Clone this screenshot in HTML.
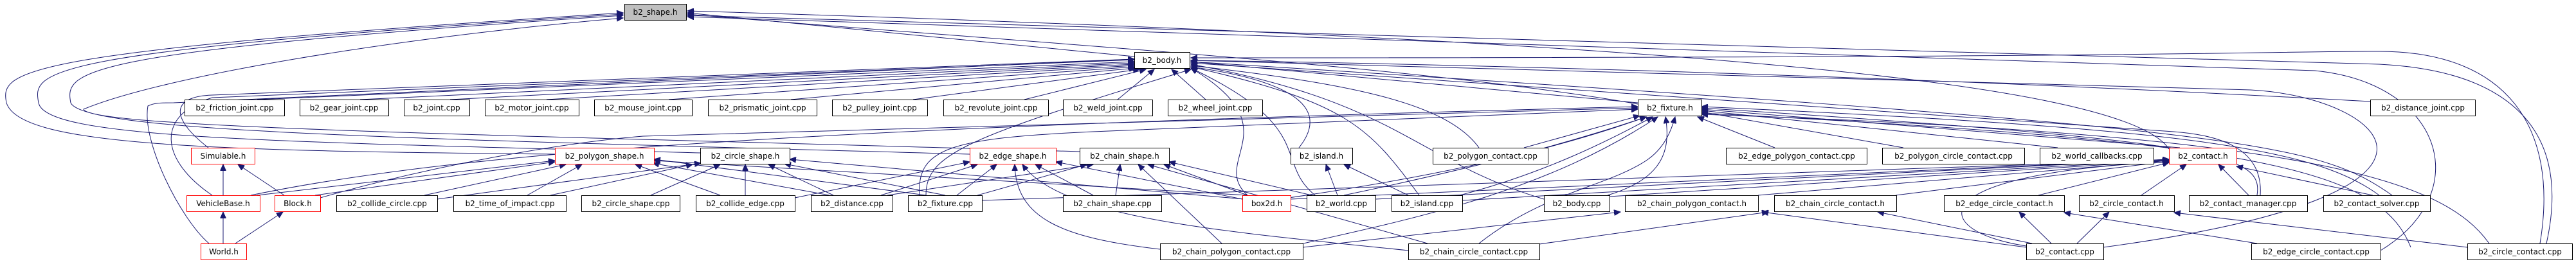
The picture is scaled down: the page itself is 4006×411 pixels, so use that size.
<!DOCTYPE html>
<html><head><meta charset="utf-8"><style>
html,body{margin:0;padding:0;background:#fff;}
svg{display:block;}
text{font-family:"DejaVu Sans","Liberation Sans",sans-serif;font-size:12px;fill:#000;}
.n{fill:#fff;stroke:#000;stroke-width:1;}
.r{fill:#fff;stroke:#ff0000;stroke-width:1;}
.g{fill:#bfbfbf;stroke:#000;stroke-width:1;}
.e{fill:none;stroke:#191970;stroke-width:1;}
</style></head><body>
<svg width="4006" height="411" viewBox="0 0 4006 411" xmlns="http://www.w3.org/2000/svg">
<defs><marker id="a" markerWidth="11" markerHeight="9" refX="10" refY="4.5" orient="auto" markerUnits="userSpaceOnUse"><path d="M0,0 L10,4.5 L0,9 Z" fill="#191970" stroke="#191970"/></marker></defs>
<g class="e" marker-end="url(#a)">
<!-- into b2_shape.h -->
<path d="M1764 88 L1069 20"/>
<path d="M2547 162 C2200 100 1500 60 1069 22"/>
<path d="M3373 232 C3300 120 2500 60 1069 17"/>
<path d="M3960 379 C4000 200 3900 110 3700 100 L1069 24"/>
<path d="M3702 390 C3850 300 3800 130 3600 110 L1069 26"/>
<path d="M863 240 C300 235 30 225 10 160 C0 110 20 80 969 20"/>
<path d="M1089 238 C400 220 70 215 60 160 C50 110 60 80 969 22"/>
<path d="M1508 240 C600 215 130 205 110 160 C100 110 120 80 969 24"/>
<path d="M1679 236 C800 210 140 200 130 170 C250 120 600 60 969 28"/>
<!-- into b2_body.h -->
<path d="M400 155 L1764 96"/>
<path d="M560 155 L1764 98"/>
<path d="M700 155 L1764 100"/>
<path d="M850 155 L1764 102"/>
<path d="M1040 155 L1764 104"/>
<path d="M1230 155 L1766 106"/>
<path d="M1420 155 L1772 108"/>
<path d="M1593 155 L1782 108"/>
<path d="M1738 155 L1795 108"/>
<path d="M1875 155 L1822 108"/>
<path d="M3686 158 C3000 120 2300 100 1852 94"/>
<path d="M2547 160 L1852 96"/>
<path d="M324 230 C260 180 270 150 330 148 L1764 92"/>
<path d="M330 304 C250 250 240 180 330 152 L1764 93"/>
<path d="M325 379 C280 340 220 220 230 165 C240 160 250 160 270 160 L1764 92"/>
<path d="M2020 230 C2060 180 2040 130 1852 104"/>
<path d="M2045 304 C1980 250 2050 200 1852 106"/>
<path d="M2207 304 C2130 200 2100 160 1852 104"/>
<path d="M2401 310 C2200 250 2180 160 1852 100"/>
<path d="M1940 304 C1880 250 2010 200 1852 106"/>
<path d="M2300 230 C2250 160 2100 130 1852 102"/>
<path d="M3515 304 C3520 230 3450 210 3380 205 L1852 98"/>
<path d="M3720 304 C3600 220 3500 200 1852 96"/>
<path d="M3271 385 C3900 300 3700 150 3500 140 L1852 94"/>
<path d="M3950 379 C3980 200 3900 80 3700 80 C3500 80 3400 90 1852 90"/>
<path d="M1440 304 C1440 240 1500 215 1852 108"/>
<!-- into b2_fixture.h -->
<path d="M1430 304 C1425 230 1480 215 1700 205 L2547 170"/>
<path d="M2090 304 C2300 260 2450 220 2560 182"/>
<path d="M2270 304 C2400 270 2500 220 2570 182"/>
<path d="M2500 304 C2580 280 2600 240 2590 182"/>
<path d="M1990 310 C2200 280 2400 240 2560 182"/>
<path d="M2370 230 L2550 180"/>
<path d="M2760 230 L2640 182"/>
<path d="M2960 230 L2646 174"/>
<path d="M3200 230 L2646 172"/>
<path d="M3390 230 L2646 170"/>
<path d="M3510 304 C3520 240 3450 220 2646 168"/>
<path d="M3700 304 C3600 230 3400 200 2646 166"/>
<path d="M2300 379 C2400 300 2500 290 2560 250 C2590 230 2600 200 2605 182"/>
<path d="M2000 385 C2200 340 2400 300 2578 182"/>
<path d="M498 308 C700 250 900 220 1000 212 L2547 168"/>
<path d="M390 304 C700 240 1200 200 2547 166"/>
<path d="M3871 379 C3800 280 3600 210 2646 178"/>
<path d="M3749 385 C3700 260 3500 220 2646 176"/>
<!-- into b2_polygon_shape.h -->
<path d="M660 304 L880 256"/>
<path d="M820 304 L905 256"/>
<path d="M1120 304 L988 256"/>
<path d="M1290 304 L1015 254"/>
<path d="M1440 304 L1017 248"/>
<path d="M1940 304 L1017 250"/>
<path d="M490 304 L863 252"/>
<path d="M400 304 L863 250"/>
<!-- into b2_circle_shape.h -->
<path d="M680 310 L1090 254"/>
<path d="M856 304 L1077 256"/>
<path d="M1012 304 L1120 256"/>
<path d="M1159 304 L1159 256"/>
<path d="M1296 304 L1195 256"/>
<path d="M1470 304 L1220 255"/>
<path d="M1935 310 L1228 248"/>
<!-- into b2_edge_shape.h -->
<path d="M1370 304 L1520 256"/>
<path d="M1488 304 L1550 256"/>
<path d="M1236 308 L1508 252"/>
<path d="M1700 304 L1610 256"/>
<path d="M1932 310 L1642 252"/>
<path d="M1804 388 C1650 370 1580 340 1578 256"/>
<path d="M2190 390 C1900 360 1650 340 1590 256"/>
<!-- into b2_chain_shape.h -->
<path d="M1735 304 L1742 256"/>
<path d="M1380 304 L1700 256"/>
<path d="M1520 304 L1690 256"/>
<path d="M1940 304 L1810 256"/>
<path d="M2040 304 L1818 252"/>
<path d="M1900 379 L1770 256"/>
<path d="M2220 379 L1785 256"/>
<!-- Simulable / Vehicle / Block / World -->
<path d="M347 304 L347 256"/>
<path d="M442 304 L370 256"/>
<path d="M347 379 L347 330"/>
<path d="M366 379 L440 330"/>
<!-- island.h -->
<path d="M2080 304 L2062 256"/>
<path d="M2190 304 L2090 256"/>
<!-- into b2_contact.h -->
<path d="M3497 304 L3450 256"/>
<path d="M3690 304 L3478 259"/>
<path d="M3330 304 L3400 256"/>
<path d="M3170 304 L3373 253"/>
<path d="M2948 304 L3373 251"/>
<path d="M2734 304 L3373 250"/>
<path d="M2139 310 L3373 248"/>
<path d="M2274 312 L3373 249"/>
<path d="M2503 306 L3373 250"/>
<path d="M1527 312 L3373 249"/>
<path d="M2007 310 L3373 248"/>
<path d="M3151 383 C3000 360 2980 270 3373 252"/>
<!-- contact headers -->
<path d="M2026 385 L2520 330"/>
<path d="M3151 385 L2740 330"/>
<path d="M2394 380 L2750 330"/>
<path d="M3160 379 L2920 330"/>
<path d="M3190 379 L3140 330"/>
<path d="M3510 379 L3210 331"/>
<path d="M3230 379 L3280 330"/>
<path d="M3837 385 L3381 331"/>
</g>
<!-- nodes -->
<g>
<rect class="g" x="971.5" y="6.5" width="96" height="25"/><text x="1019" y="23" text-anchor="middle">b2_shape.h</text>
<rect class="n" x="1764.5" y="81.5" width="86" height="25"/><text x="1807" y="98" text-anchor="middle">b2_body.h</text>

<rect class="n" x="287.5" y="155.5" width="155" height="25"/><text x="365" y="172" text-anchor="middle">b2_friction_joint.cpp</text>
<rect class="n" x="466.5" y="155.5" width="138" height="25"/><text x="535" y="172" text-anchor="middle">b2_gear_joint.cpp</text>
<rect class="n" x="628.5" y="155.5" width="102" height="25"/><text x="679" y="172" text-anchor="middle">b2_joint.cpp</text>
<rect class="n" x="754.5" y="155.5" width="146" height="25"/><text x="827" y="172" text-anchor="middle">b2_motor_joint.cpp</text>
<rect class="n" x="924.5" y="155.5" width="152" height="25"/><text x="1000" y="172" text-anchor="middle">b2_mouse_joint.cpp</text>
<rect class="n" x="1101.5" y="155.5" width="169" height="25"/><text x="1186" y="172" text-anchor="middle">b2_prismatic_joint.cpp</text>
<rect class="n" x="1294.5" y="155.5" width="148" height="25"/><text x="1368" y="172" text-anchor="middle">b2_pulley_joint.cpp</text>
<rect class="n" x="1467.5" y="155.5" width="163" height="25"/><text x="1549" y="172" text-anchor="middle">b2_revolute_joint.cpp</text>
<rect class="n" x="1653.5" y="155.5" width="139" height="25"/><text x="1723" y="172" text-anchor="middle">b2_weld_joint.cpp</text>
<rect class="n" x="1816.5" y="155.5" width="147" height="25"/><text x="1890" y="172" text-anchor="middle">b2_wheel_joint.cpp</text>
<rect class="n" x="2547.5" y="155.5" width="99" height="25"/><text x="2597" y="172" text-anchor="middle">b2_fixture.h</text>
<rect class="n" x="3686.5" y="155.5" width="163" height="25"/><text x="3768" y="172" text-anchor="middle">b2_distance_joint.cpp</text>

<rect class="r" x="297.5" y="230.5" width="99" height="25"/><text x="347" y="247" text-anchor="middle">Simulable.h</text>
<rect class="r" x="863.5" y="230.5" width="154" height="25"/><text x="940" y="247" text-anchor="middle">b2_polygon_shape.h</text>
<rect class="n" x="1089.5" y="230.5" width="139" height="25"/><text x="1159" y="247" text-anchor="middle">b2_circle_shape.h</text>
<rect class="r" x="1508.5" y="230.5" width="134" height="25"/><text x="1575" y="247" text-anchor="middle">b2_edge_shape.h</text>
<rect class="n" x="1679.5" y="230.5" width="139" height="25"/><text x="1749" y="247" text-anchor="middle">b2_chain_shape.h</text>
<rect class="n" x="2007.5" y="230.5" width="96" height="25"/><text x="2055" y="247" text-anchor="middle">b2_island.h</text>
<rect class="n" x="2228.5" y="230.5" width="179" height="25"/><text x="2318" y="247" text-anchor="middle">b2_polygon_contact.cpp</text>
<rect class="n" x="2684.5" y="230.5" width="219" height="25"/><text x="2794" y="247" text-anchor="middle">b2_edge_polygon_contact.cpp</text>
<rect class="n" x="2927.5" y="230.5" width="221" height="25"/><text x="3038" y="247" text-anchor="middle">b2_polygon_circle_contact.cpp</text>
<rect class="n" x="3172.5" y="230.5" width="177" height="25"/><text x="3261" y="247" text-anchor="middle">b2_world_callbacks.cpp</text>
<rect class="r" x="3373.5" y="230.5" width="105" height="25"/><text x="3426" y="247" text-anchor="middle">b2_contact.h</text>

<rect class="r" x="290.5" y="304.5" width="114" height="25"/><text x="347" y="321" text-anchor="middle">VehicleBase.h</text>
<rect class="r" x="427.5" y="304.5" width="71" height="25"/><text x="463" y="321" text-anchor="middle">Block.h</text>
<rect class="n" x="523.5" y="304.5" width="157" height="25"/><text x="602" y="321" text-anchor="middle">b2_collide_circle.cpp</text>
<rect class="n" x="705.5" y="304.5" width="175" height="25"/><text x="793" y="321" text-anchor="middle">b2_time_of_impact.cpp</text>
<rect class="n" x="904.5" y="304.5" width="153" height="25"/><text x="981" y="321" text-anchor="middle">b2_circle_shape.cpp</text>
<rect class="n" x="1082.5" y="304.5" width="154" height="25"/><text x="1159" y="321" text-anchor="middle">b2_collide_edge.cpp</text>
<rect class="n" x="1261.5" y="304.5" width="127" height="25"/><text x="1325" y="321" text-anchor="middle">b2_distance.cpp</text>
<rect class="n" x="1412.5" y="304.5" width="115" height="25"/><text x="1470" y="321" text-anchor="middle">b2_fixture.cpp</text>
<rect class="n" x="1653.5" y="304.5" width="153" height="25"/><text x="1730" y="321" text-anchor="middle">b2_chain_shape.cpp</text>
<rect class="r" x="1932.5" y="304.5" width="75" height="25"/><text x="1970" y="321" text-anchor="middle">box2d.h</text>
<rect class="n" x="2032.5" y="304.5" width="107" height="25"/><text x="2086" y="321" text-anchor="middle">b2_world.cpp</text>
<rect class="n" x="2164.5" y="304.5" width="110" height="25"/><text x="2219" y="321" text-anchor="middle">b2_island.cpp</text>
<rect class="n" x="2401.5" y="304.5" width="102" height="25"/><text x="2452" y="321" text-anchor="middle">b2_body.cpp</text>
<rect class="n" x="2527.5" y="304.5" width="207" height="25"/><text x="2631" y="321" text-anchor="middle">b2_chain_polygon_contact.h</text>
<rect class="n" x="2759.5" y="304.5" width="190" height="25"/><text x="2854" y="321" text-anchor="middle">b2_chain_circle_contact.h</text>
<rect class="n" x="3023.5" y="304.5" width="187" height="25"/><text x="3117" y="321" text-anchor="middle">b2_edge_circle_contact.h</text>
<rect class="n" x="3233.5" y="304.5" width="148" height="25"/><text x="3307" y="321" text-anchor="middle">b2_circle_contact.h</text>
<rect class="n" x="3404.5" y="304.5" width="184" height="25"/><text x="3496" y="321" text-anchor="middle">b2_contact_manager.cpp</text>
<rect class="n" x="3613.5" y="304.5" width="166" height="25"/><text x="3696" y="321" text-anchor="middle">b2_contact_solver.cpp</text>

<rect class="r" x="312.5" y="379.5" width="71" height="25"/><text x="348" y="396" text-anchor="middle">World.h</text>
<rect class="n" x="1804.5" y="379.5" width="222" height="25"/><text x="1915" y="396" text-anchor="middle">b2_chain_polygon_contact.cpp</text>
<rect class="n" x="2190.5" y="379.5" width="204" height="25"/><text x="2292" y="396" text-anchor="middle">b2_chain_circle_contact.cpp</text>
<rect class="n" x="3151.5" y="379.5" width="120" height="25"/><text x="3211" y="396" text-anchor="middle">b2_contact.cpp</text>
<rect class="n" x="3501.5" y="379.5" width="201" height="25"/><text x="3602" y="396" text-anchor="middle">b2_edge_circle_contact.cpp</text>
<rect class="n" x="3837.5" y="379.5" width="163" height="25"/><text x="3919" y="396" text-anchor="middle">b2_circle_contact.cpp</text>
</g>
</svg>
</body></html>
